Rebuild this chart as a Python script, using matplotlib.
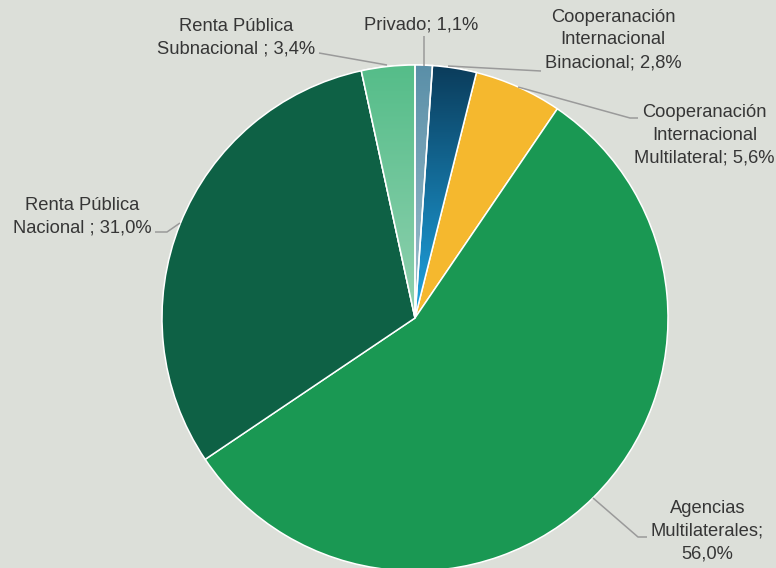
import matplotlib
matplotlib.use("Agg")
import matplotlib.pyplot as plt
from matplotlib.patches import Wedge
import numpy as np
from matplotlib.colors import to_rgb

# Funding sources (share of total, %)
labels = [
    "Privado; 1,1%",
    "Cooperanación\nInternacional\nBinacional; 2,8%",
    "Cooperanación\nInternacional\nMultilateral; 5,6%",
    "Agencias\nMultilaterales;\n56,0%",
    "Renta Pública\nNacional ; 31,0%",
    "Renta Pública\nSubnacional ; 3,4%",
]
values = [1.1, 2.8, 5.6, 56.0, 31.0, 3.4]

# (top colour, bottom colour) – equal pairs mean a flat fill
fills = [
    ("#5a8fa8", "#9fc0cd"),
    ("#0b3c5b", "#1ea6e4"),
    ("#f5b82e", "#f5b82e"),
    ("#1a9853", "#1a9853"),
    ("#0e6145", "#0e6145"),
    ("#55bd89", "#90d1b0"),
]

BG = "#dcdfd9"
W, H = 776, 568
cx, cy, R = 415, H - 318, 253

fig = plt.figure(figsize=(W / 100, H / 100), dpi=100, facecolor=BG)
ax = fig.add_axes([0, 0, 1, 1])
ax.set_facecolor(BG)

wedges, _ = ax.pie(values, center=(cx, cy), radius=R, startangle=90,
                   counterclock=False, colors=[f[0] for f in fills],
                   wedgeprops=dict(edgecolor="white", linewidth=1.1),
                   frame=True)

# vertical gradients clipped to their wedges
for w, (top, bot) in zip(wedges, fills):
    if top == bot:
        continue
    t, b = np.array(to_rgb(top)), np.array(to_rgb(bot))
    y0, y1 = cy, cy + R
    frac = np.linspace(0, 1, 256)[:, None]
    img = (b * (1 - frac) + t * frac)[:, None, :]
    img = np.repeat(img, 2, axis=1)
    im = ax.imshow(img, extent=(cx - R, cx + R, y0, y1), origin="lower",
                   aspect="auto", zorder=w.get_zorder() + 0.1)
    im.set_clip_path(w)
    # white outline back on top of the gradient
    ax.add_patch(Wedge((cx, cy), R, w.theta1, w.theta2, facecolor="none",
                       edgecolor="white", linewidth=1.1,
                       zorder=w.get_zorder() + 0.2))

ax.set_xlim(0, W)
ax.set_ylim(0, H)
ax.set_aspect("equal")
ax.axis("off")

txt = dict(fontsize=13.2, color="#363636", family="Liberation Sans",
           ha="center", va="center", linespacing=1.45)
lc = dict(color="#9a9a9a", linewidth=1.1, solid_capstyle="butt")

def Y(p):
    return H - p

# label positions and leader lines (pixel coords from the top-left)
ax.text(421, Y(25), labels[0], **txt)
ax.plot([424, 424], [Y(36), Y(66)], **lc)

ax.text(613, Y(40), labels[1], **txt)
ax.plot([448, 541], [Y(66), Y(71)], **lc)

ax.text(704.5, Y(135), labels[2], **txt)
ax.plot([518, 630, 638], [Y(87), Y(118), Y(118)], **lc)

ax.text(707.5, Y(531), labels[3], **txt)
ax.plot([593, 638, 647], [Y(498), Y(537), Y(537)], **lc)

ax.text(82.5, Y(216.5), labels[4], **txt)
ax.plot([155, 167, 180], [Y(232), Y(232), Y(223)], **lc)

ax.text(236.5, Y(38), labels[5], **txt)
ax.plot([319, 387], [Y(53), Y(65)], **lc)

fig.savefig("out.png", dpi=100, facecolor=BG)
